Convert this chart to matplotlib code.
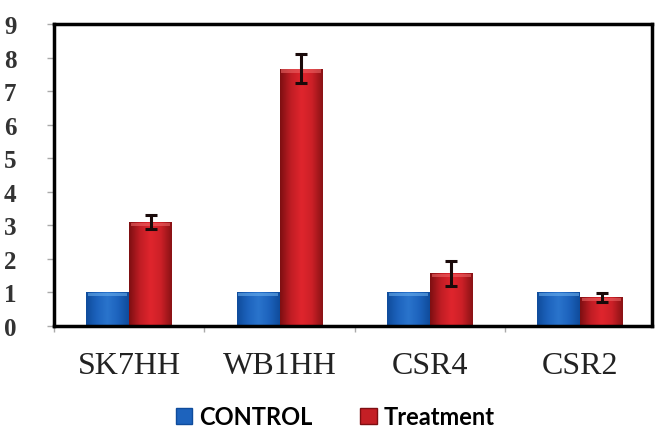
import numpy as np
import matplotlib
matplotlib.use("Agg")
import matplotlib.pyplot as plt
from matplotlib.patches import Patch
from matplotlib.colors import LinearSegmentedColormap

# Data
categories = ["SK7HH", "WB1HH", "CSR4", "CSR2"]
control = [1.0, 1.0, 1.0, 1.0]
treatment = [3.1, 7.67, 1.57, 0.86]
treatment_err = [0.22, 0.44, 0.38, 0.13]
y_ticks = [0, 1, 2, 3, 4, 5, 6, 7, 8, 9]

fig = plt.figure(figsize=(6.55, 4.31), dpi=100)
ax = fig.add_axes([0.0824, 0.2413, 0.9130, 0.7007])

x = np.arange(len(categories))
width = 0.285

blue_cmap = LinearSegmentedColormap.from_list(
    "blue", ["#0f4c9c", "#1d63bd", "#2a74cc", "#1d63bd", "#0f4c9c"])
red_cmap = LinearSegmentedColormap.from_list(
    "red", ["#7e0f12", "#c01d24", "#e0252d", "#cc2027", "#8a1215"])


def shade(bars, cmap, top_color):
    for b in bars:
        bx, by = b.get_x(), b.get_y()
        bw, bh = b.get_width(), b.get_height()
        grad = np.linspace(0, 1, 64).reshape(1, -1)
        im = ax.imshow(grad, cmap=cmap, aspect="auto",
                       extent=[bx, bx + bw, by, by + bh], zorder=2,
                       interpolation="bicubic")
        im.set_clip_path(b)
        # light rim along the top of each bar
        rim = min(0.12, bh * 0.15)
        ax.fill_between([bx + bw * 0.04, bx + bw * 0.96], by + bh - rim,
                        by + bh - rim * 0.2, color=top_color, alpha=0.55,
                        lw=0, zorder=2.5)


bars_c = ax.bar(x - width / 2, control, width, color="none", zorder=2)
bars_t = ax.bar(x + width / 2, treatment, width, color="none", zorder=2)
shade(bars_c, blue_cmap, "#6fb3f0")
shade(bars_t, red_cmap, "#f06a6a")

ax.errorbar(x + width / 2, treatment, yerr=treatment_err, fmt="none",
            ecolor="#1a0a0a", elinewidth=2.2, capsize=4, capthick=2.2,
            zorder=4)

ax.set_xlim(-0.483, 3.477)
ax.set_ylim(0, 9)
ax.set_yticks(y_ticks)
ax.set_yticklabels([str(t) for t in y_ticks], fontfamily="Liberation Serif",
                   fontsize=18, fontweight="bold", color="#333333")
ax.tick_params(axis="y", length=5, width=1, color="#aaaaaa", pad=22)

ax.set_xticks(x)
ax.set_xticklabels(categories, fontfamily="Liberation Serif", fontsize=23,
                   color="#222222")
ax.tick_params(axis="x", length=0, pad=18)
ax.set_xticks(np.arange(len(categories)) - 0.5, minor=True)
ax.tick_params(axis="x", which="minor", length=4, width=1, color="#aaaaaa")

for s in ax.spines.values():
    s.set_linewidth(2.5)
    s.set_color("black")

legend_handles = [Patch(facecolor="#1d63bd", edgecolor="#0f4c9c", label="CONTROL"),
                  Patch(facecolor="#c41f25", edgecolor="#7e0f12", label="Treatment")]
fig.legend(handles=legend_handles, loc="lower center", ncol=2,
           bbox_to_anchor=(0.512, -0.045), frameon=False,
           prop={"family": "Lato", "size": 17, "weight": "bold"},
           handlelength=0.7, handleheight=0.7, handletextpad=0.3,
           columnspacing=2.0)

fig.savefig("out.png", dpi=100)
